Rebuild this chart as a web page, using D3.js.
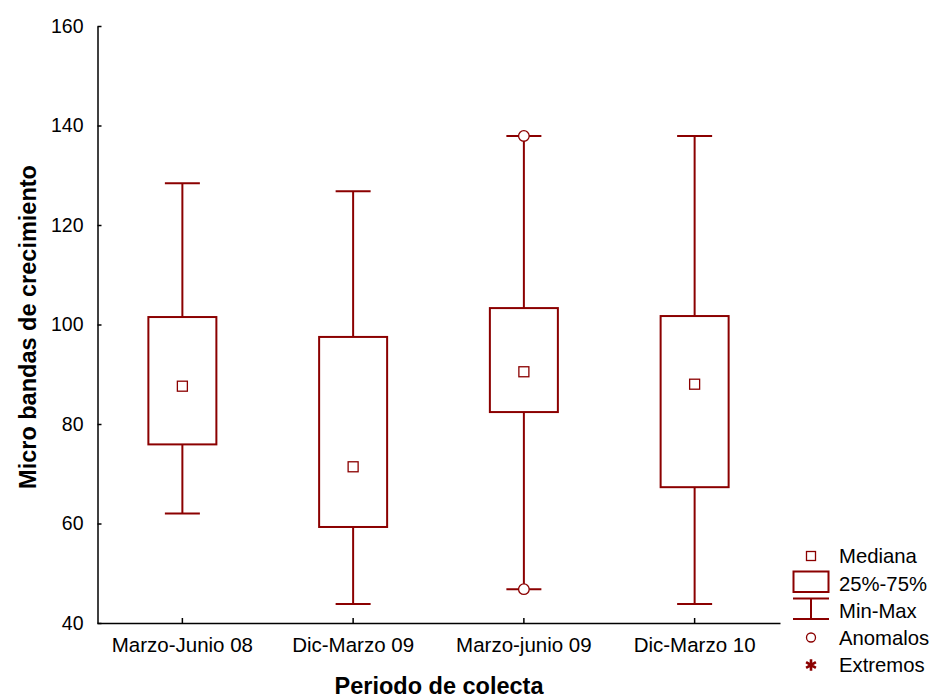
<!DOCTYPE html>
<html>
<head>
<meta charset="utf-8">
<script src="https://cdn.jsdelivr.net/npm/d3@7"></script>
<style>
  html, body { margin: 0; padding: 0; background: #fff; }
  svg { display: block; font-family: Arial, "Liberation Sans", sans-serif; }
</style>
</head>
<body>
<svg id="chart" width="930" height="698"></svg>
<script>
// Growth micro-bands per collection period (box plot summary)
const categories = ["Marzo-Junio 08", "Dic-Marzo 09", "Marzo-junio 09", "Dic-Marzo 10"];
const mins    = [62.0, 43.8, 46.8, 43.8];
const q1s     = [75.9, 59.3, 82.4, 67.3];
const medians = [87.6, 71.4, 90.5, 88.0];
const q3s     = [101.5, 97.5, 103.3, 101.7];
const maxs    = [128.4, 126.8, 137.9, 137.9];
// Outliers (category index, value)
const outlierCat = [2, 2];
const outlierVal = [137.9, 46.8];
const yTicks = [40, 60, 80, 100, 120, 140, 160];
const legendLabels = ["Mediana", "25%-75%", "Min-Max", "Anomalos", "Extremos"];

const color = "#8b0000";
const svg = d3.select("#chart");

const x = d3.scaleBand().domain(categories).range([97, 780]);
const y = d3.scaleLinear().domain([40, 160]).range([623, 26]);

// Axes
const gy = svg.append("g").attr("transform", "translate(97.5,0)")
  .call(d3.axisLeft(y).tickValues(yTicks).tickFormat(d3.format("d"))
    .tickSizeInner(-4).tickSizeOuter(0).tickPadding(14));
gy.selectAll("text").attr("font-size", 19.5).attr("fill", "#000");
gy.selectAll("line, path").attr("stroke", "#000").attr("stroke-width", 1.5);

const gx = svg.append("g").attr("transform", "translate(0,623)")
  .call(d3.axisBottom(x).tickSizeInner(-5).tickSizeOuter(0).tickPadding(14));
gx.selectAll("text").attr("font-size", 20.5).attr("fill", "#000");
gx.selectAll("line, path").attr("stroke", "#000").attr("stroke-width", 1.5);

// Axis titles
svg.append("text").attr("x", 439).attr("y", 694)
  .attr("text-anchor", "middle").attr("font-size", 23.5).attr("font-weight", "bold")
  .text("Periodo de colecta");
svg.append("text").attr("transform", "translate(36,327) rotate(-90)")
  .attr("text-anchor", "middle").attr("font-size", 23.5).attr("font-weight", "bold")
  .text("Micro bandas de crecimiento");

// Boxes
const boxW = 68, capW = 35;
const plot = svg.append("g").attr("stroke", color).attr("stroke-width", 2).attr("fill", "none");
categories.forEach((c, i) => {
  const cx = x(c) + x.bandwidth() / 2;
  const g = plot.append("g");
  // whiskers
  g.append("line").attr("x1", cx).attr("x2", cx).attr("y1", y(q3s[i])).attr("y2", y(maxs[i]));
  g.append("line").attr("x1", cx).attr("x2", cx).attr("y1", y(q1s[i])).attr("y2", y(mins[i]));
  g.append("line").attr("x1", cx - capW / 2).attr("x2", cx + capW / 2).attr("y1", y(maxs[i])).attr("y2", y(maxs[i]));
  g.append("line").attr("x1", cx - capW / 2).attr("x2", cx + capW / 2).attr("y1", y(mins[i])).attr("y2", y(mins[i]));
  // box
  g.append("rect").attr("x", cx - boxW / 2).attr("y", y(q3s[i]))
    .attr("width", boxW).attr("height", y(q1s[i]) - y(q3s[i]));
  // median marker
  g.append("rect").attr("x", cx - 5).attr("y", y(medians[i]) - 5)
    .attr("width", 10).attr("height", 10).attr("fill", "#fff").attr("stroke-width", 1.3);
});

// Outliers
outlierVal.forEach((v, k) => {
  const cx = x(categories[outlierCat[k]]) + x.bandwidth() / 2;
  plot.append("circle").attr("cx", cx).attr("cy", y(v)).attr("r", 5.3)
    .attr("fill", "#fff").attr("stroke-width", 1.3);
});

// Legend
const lg = svg.append("g");
const lx = 811, textX = 839;
const rows = [556, 583.5, 610.5, 637.5, 665];
legendLabels.forEach((t, i) => {
  lg.append("text").attr("x", textX).attr("y", rows[i] + 7).attr("font-size", 20.3).text(t);
});
lg.append("rect").attr("x", lx - 4.5).attr("y", rows[0] - 4.5).attr("width", 9).attr("height", 9)
  .attr("fill", "#fff").attr("stroke", color).attr("stroke-width", 1.3);
lg.append("rect").attr("x", 793.5).attr("y", 571.5).attr("width", 35).attr("height", 20.5)
  .attr("fill", "#fff").attr("stroke", color).attr("stroke-width", 2);
lg.append("line").attr("x1", 793).attr("x2", 829).attr("y1", 598.5).attr("y2", 598.5).attr("stroke", color).attr("stroke-width", 2);
lg.append("line").attr("x1", 793).attr("x2", 829).attr("y1", 619).attr("y2", 619).attr("stroke", color).attr("stroke-width", 2);
lg.append("line").attr("x1", lx).attr("x2", lx).attr("y1", 598.5).attr("y2", 619).attr("stroke", color).attr("stroke-width", 2);
lg.append("circle").attr("cx", lx).attr("cy", rows[3]).attr("r", 4.5)
  .attr("fill", "#fff").attr("stroke", color).attr("stroke-width", 1.3);
lg.append("path").attr("transform", `translate(${lx},${rows[4]})`)
  .attr("d", d3.symbol(d3.symbolAsterisk, 90)())
  .attr("fill", "none").attr("stroke", color).attr("stroke-width", 2.6);
</script>
</body>
</html>
